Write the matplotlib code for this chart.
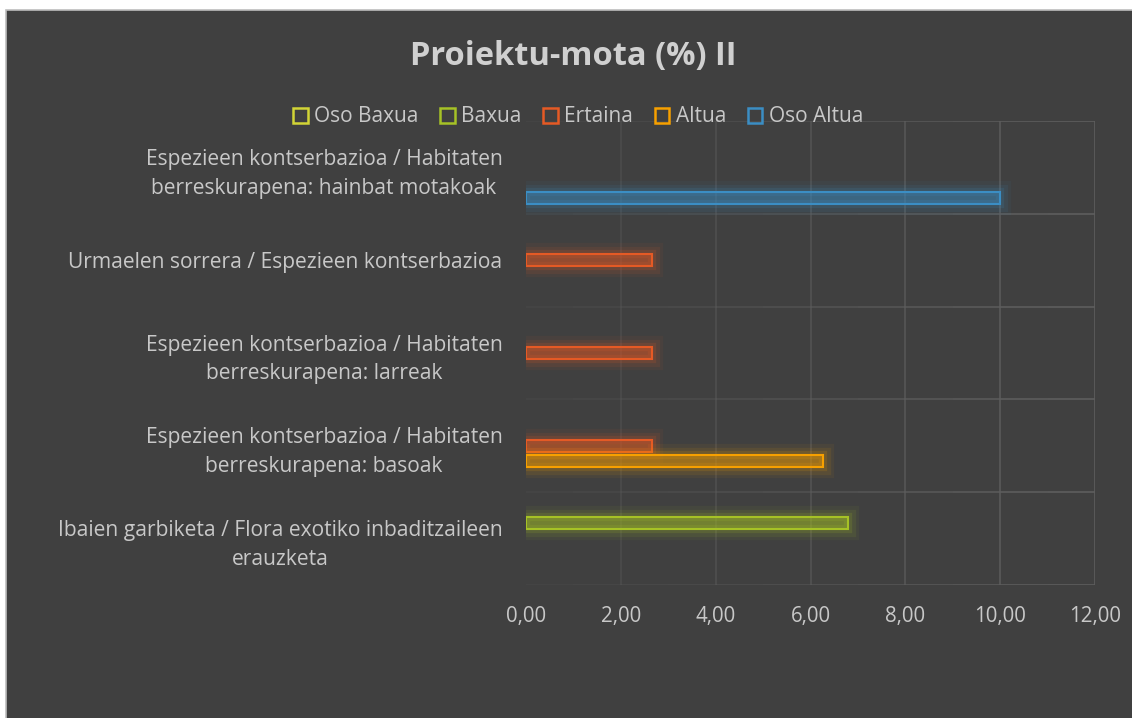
"""Proiektu-mota (%) II - clustered horizontal bars, Excel dark style."""
import matplotlib
matplotlib.use('Agg')
import matplotlib.pyplot as plt
import matplotlib.patheffects as pe
from matplotlib.patches import Rectangle
from matplotlib.ticker import FuncFormatter
import numpy as np

TITLE = 'Proiektu-mota (%) II'
CATEGORIES = ['Ibaien garbiketa / Flora exotiko inbaditzaileen\nerauzketa',
              'Espezieen kontserbazioa / Habitaten\nberreskurapena: basoak',
              'Espezieen kontserbazioa / Habitaten\nberreskurapena: larreak',
              'Urmaelen sorrera / Espezieen kontserbazioa',
              'Espezieen kontserbazioa / Habitaten\nberreskurapena: hainbat motakoak']
SERIES = ['Oso Baxua', 'Baxua', 'Ertaina', 'Altua', 'Oso Altua']
OSO_BAXUA = [0, 0, 0, 0, 0]
BAXUA = [6.8, 0, 0, 0, 0]
ERTAINA = [0, 2.65, 2.65, 2.65, 0]
ALTUA = [0, 6.27, 0, 0, 0]
OSO_ALTUA = [0, 0, 0, 0, 10.0]
VALUES = [OSO_BAXUA, BAXUA, ERTAINA, ALTUA, OSO_ALTUA]
COLORS = ['#d2d436', '#a6c226', '#e55a25', '#f7a000', '#3b8ec4']

BG = '#404040'
TEXT = '#c8c8c8'
GRID = '#5e5e5e'
FONT = 'Open Sans'

fig = plt.figure(figsize=(11.32, 7.18), dpi=100)
fig.patch.set_facecolor('white')
fig.patches.append(Rectangle((6 / 1132, -0.01), 1.0, 1 - 10 / 718 + 0.01,
                             transform=fig.transFigure, facecolor=BG,
                             edgecolor='#bdbdbd', linewidth=1.2, zorder=-10))

ax = fig.add_axes([526 / 1132, 1 - 585 / 718, 569 / 1132, 464 / 718])
ax.set_facecolor('none')

y = np.arange(len(CATEGORIES))
slot = 1 / 6
bar_h = 0.13

# gradient gridlines (fade to the left like Excel)
for k in range(1, 7):
    ax.plot([2 * k, 2 * k], [-0.5, 4.5], color=GRID, lw=1.2,
            alpha=0.25 + 0.75 * k / 6, zorder=0)
for b in np.arange(-0.5, 5, 1.0):
    for i in range(12):
        ax.plot([i, i + 1], [b, b], color=GRID, lw=1.2,
                alpha=0.1 + 0.9 * (i + 1) / 12, zorder=0, solid_capstyle='butt')

for i, (name, vals, c) in enumerate(zip(SERIES, VALUES, COLORS)):
    vals = np.array(vals, dtype=float)
    pos = y + (2 - i) * slot
    keep = vals > 0
    bars = ax.barh(pos[keep], vals[keep], height=bar_h, color=c + '38',
                   edgecolor=c, linewidth=1.5, zorder=3)
    for bar in bars:
        bar.set_path_effects([
            pe.Stroke(linewidth=16, foreground=c, alpha=0.06),
            pe.Stroke(linewidth=11, foreground=c, alpha=0.09),
            pe.Stroke(linewidth=6, foreground=c, alpha=0.15),
            pe.Normal()])
    # legend proxy
    ax.barh([np.nan], [np.nan], color='none', edgecolor=c, linewidth=1.8,
            label=name)

ax.set_xlim(0, 12)
ax.set_ylim(-0.5, 4.5)
ax.set_xticks(np.arange(0, 13, 2))
ax.xaxis.set_major_formatter(FuncFormatter(lambda v, p: f'{v:.2f}'.replace('.', ',')))
ax.set_yticks(y)
ax.set_yticklabels(CATEGORIES)
for lab in ax.get_yticklabels():
    lab.set_multialignment('center')
    lab.set_linespacing(1.5)
ax.tick_params(axis='both', length=0, colors=TEXT)
ax.tick_params(axis='x', pad=15, labelsize=14.8)
ax.tick_params(axis='y', pad=17, labelsize=15.1)
for lab in ax.get_xticklabels() + ax.get_yticklabels():
    lab.set_fontfamily(FONT)
for s in ax.spines.values():
    s.set_visible(False)

leg = fig.legend(loc='center', bbox_to_anchor=(578 / 1132, 1 - 117 / 718),
                 ncol=5, frameon=False, handlelength=0.7, handleheight=0.7,
                 handletextpad=0.3, columnspacing=1.05,
                 prop={'family': FONT, 'size': 15})
for t in leg.get_texts():
    t.set_color(TEXT)

fig.text(573 / 1132, 1 - 56 / 718, TITLE, ha='center', va='center',
         fontsize=23.5, fontweight='bold', color='#d0d0d0', family=FONT)

fig.savefig('out.png', dpi=100, facecolor=fig.get_facecolor())
